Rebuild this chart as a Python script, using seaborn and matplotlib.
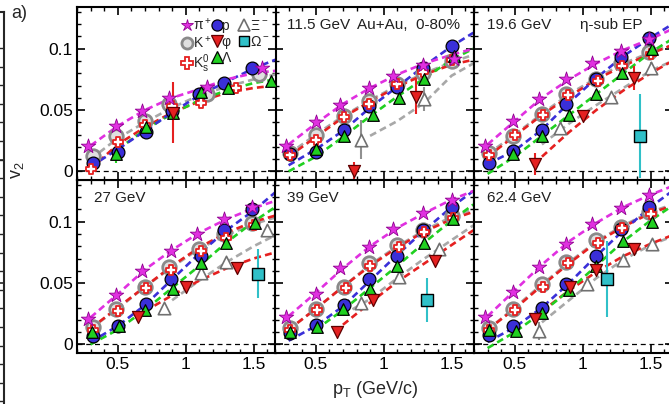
import numpy as np
import matplotlib
matplotlib.use("Agg")
import matplotlib.pyplot as plt
import seaborn as sns
from matplotlib.ticker import MultipleLocator, FuncFormatter, FixedLocator
from matplotlib.lines import Line2D

nan = np.nan

ENERGIES = ["7.7 GeV", "11.5 GeV", "19.6 GeV", "27 GeV", "39 GeV", "62.4 GeV"]

# ---------------- data points (one inner list per panel) ----------------
PION_PT = [[0.28, 0.49, 0.68, 0.88, 1.16, 1.56],
           [0.28, 0.50, 0.68, 0.89, 1.07, 1.29, 1.52],
           [0.28, 0.49, 0.68, 0.88, 1.07, 1.28, 1.49],
           [0.28, 0.49, 0.68, 0.89, 1.08, 1.28, 1.49],
           [0.28, 0.50, 0.68, 0.89, 1.07, 1.29, 1.50],
           [0.28, 0.49, 0.68, 0.88, 1.07, 1.28, 1.49]]
PION_V2 = [[0.021, 0.037, 0.049, 0.060, 0.069, 0.084],
           [0.021, 0.040, 0.054, 0.068, 0.078, 0.087, 0.092],
           [0.021, 0.041, 0.059, 0.075, 0.088, 0.098, 0.108],
           [0.021, 0.040, 0.060, 0.076, 0.090, 0.102, 0.112],
           [0.022, 0.041, 0.062, 0.079, 0.094, 0.107, 0.118],
           [0.022, 0.043, 0.063, 0.082, 0.098, 0.111, 0.122]]

PROTON_PT = [[0.32, 0.50, 0.71, 0.90, 1.10, 1.28, 1.49],
             [0.31, 0.50, 0.71, 0.89, 1.10, 1.29, 1.50],
             [0.31, 0.49, 0.70, 0.88, 1.10, 1.28, 1.49],
             [0.32, 0.50, 0.71, 0.89, 1.11, 1.28, 1.49],
             [0.31, 0.50, 0.71, 0.89, 1.10, 1.29, 1.50],
             [0.31, 0.49, 0.70, 0.88, 1.10, 1.28, 1.49]]
PROTON_V2 = [[0.007, 0.016, 0.032, 0.049, 0.063, 0.072, 0.084],
             [0.014, 0.016, 0.034, 0.053, 0.069, 0.084, 0.102],
             [0.007, 0.017, 0.034, 0.055, 0.075, 0.093, 0.109],
             [0.007, 0.015, 0.033, 0.053, 0.072, 0.093, 0.110],
             [0.009, 0.016, 0.032, 0.053, 0.072, 0.093, 0.112],
             [0.008, 0.015, 0.030, 0.049, 0.072, 0.094, 0.112]]

KPLUS_PT = [[0.32, 0.49, 0.70, 0.88, 1.16, 1.54],
            [0.31, 0.50, 0.71, 0.89, 1.10, 1.29, 1.50],
            [0.31, 0.49, 0.70, 0.88, 1.10, 1.28, 1.49],
            [0.32, 0.49, 0.70, 0.88, 1.10, 1.28, 1.49],
            [0.31, 0.50, 0.71, 0.89, 1.10, 1.29, 1.50],
            [0.31, 0.49, 0.70, 0.88, 1.10, 1.28, 1.49]]
KPLUS_V2 = [[0.0125, 0.029, 0.041, 0.055, 0.063, 0.079],
            [0.0146, 0.030, 0.045, 0.057, 0.071, 0.080, 0.090],
            [0.0146, 0.029, 0.047, 0.063, 0.075, 0.088, 0.097],
            [0.014, 0.029, 0.047, 0.063, 0.078, 0.090, 0.099],
            [0.013, 0.029, 0.047, 0.066, 0.081, 0.093, 0.105],
            [0.013, 0.029, 0.049, 0.067, 0.085, 0.096, 0.108]]

K0S_PT = [[0.30, 0.50, 0.70, 0.90, 1.11, 1.37],
          [0.31, 0.50, 0.71, 0.89, 1.10, 1.29, 1.50],
          [0.31, 0.50, 0.71, 0.89, 1.11, 1.29, 1.50],
          [0.32, 0.50, 0.71, 0.89, 1.11, 1.30, 1.50],
          [0.31, 0.51, 0.72, 0.90, 1.11, 1.30, 1.51],
          [0.31, 0.50, 0.71, 0.89, 1.11, 1.29, 1.50]]
K0S_V2 = [[0.002, 0.024, 0.038, 0.053, 0.056, 0.068],
          [0.013, 0.026, 0.044, 0.055, 0.071, 0.081, 0.091],
          [0.013, 0.030, 0.046, 0.062, 0.074, 0.086, 0.096],
          [0.012, 0.027, 0.046, 0.061, 0.076, 0.087, 0.097],
          [0.012, 0.028, 0.046, 0.064, 0.079, 0.092, 0.103],
          [0.012, 0.028, 0.047, 0.066, 0.083, 0.095, 0.106]]

PHI_PT = [[0.91], [0.78, 1.24], [0.65, 1.00, 1.38], [0.65, 1.00, 1.38],
          [0.66, 0.92, 1.38], [0.65, 0.91, 1.10, 1.38]]
PHI_V2 = [[0.048], [0.000, 0.061], [0.006, 0.045, 0.076], [0.022, 0.047, 0.062],
          [0.010, 0.036, 0.068], [0.021, 0.047, 0.061, 0.078]]
PHI_ERR = [[0.025], [0.008, 0.014], [0.009, 0.003, 0.010], [0.004, 0.002, 0.004],
           [0.003, 0.002, 0.004], [0.003, 0.002, 0.003, 0.003]]

XI_PT = [[], [0.83, 1.30], [0.83, 1.21, 1.50], [0.84, 1.11, 1.30, 1.60],
         [0.83, 1.11, 1.41], [0.68, 1.03, 1.30, 1.51]]
XI_V2 = [[], [0.026, 0.059], [0.035, 0.061, 0.084], [0.030, 0.058, 0.067, 0.093],
         [0.034, 0.055, 0.078], [0.011, 0.049, 0.069, 0.082]]
XI_ERR = [[], [0.016, 0.010], [0.004, 0.003, 0.005], [0.003, 0.003, 0.003, 0.004],
          [0.003, 0.003, 0.004], [0.007, 0.003, 0.003, 0.004]]

OMEGA_PT = [[], [], [1.42], [1.53], [1.32], [1.18]]
OMEGA_V2 = [[], [], [0.029], [0.0575], [0.036], [0.053]]
OMEGA_ERR = [[], [], [0.034], [0.020], [0.018], [0.031]]

LAMBDA_PT = [[0.49, 0.71, 0.91, 1.11, 1.31, 1.63],
             [0.50, 0.71, 0.92, 1.11, 1.30, 1.52],
             [0.49, 0.70, 0.90, 1.10, 1.29, 1.51],
             [0.31, 0.51, 0.70, 0.91, 1.11, 1.30, 1.51],
             [0.31, 0.51, 0.70, 0.90, 1.10, 1.30, 1.51],
             [0.31, 0.51, 0.70, 0.90, 1.10, 1.30, 1.51]]
LAMBDA_V2 = [[0.014, 0.036, 0.048, 0.065, 0.068, 0.074],
             [0.018, 0.029, 0.046, 0.060, 0.075, 0.094],
             [0.014, 0.029, 0.046, 0.063, 0.080, 0.100],
             [0.010, 0.015, 0.028, 0.045, 0.066, 0.083, 0.099],
             [0.010, 0.014, 0.029, 0.045, 0.064, 0.083, 0.102],
             [0.012, 0.011, 0.026, 0.044, 0.064, 0.084, 0.100]]
LAMBDA_ERR = [[0.007, 0.002, 0.002, 0.002, 0.003, 0.003],
              [0.003, 0.002, 0.002, 0.002, 0.002, 0.003],
              [0.003, 0.002, 0.002, 0.002, 0.002, 0.003],
              [0.006, 0.002, 0.002, 0.002, 0.002, 0.002, 0.003],
              [0.004, 0.002, 0.002, 0.002, 0.002, 0.002, 0.003],
              [0.004, 0.002, 0.002, 0.002, 0.002, 0.002, 0.003]]

# ---------------- dashed fit curves, read on a pT grid ----------------
FIT_PT = [0.3, 0.5, 0.7, 0.9, 1.1, 1.3, 1.5, 1.66]
PION_FIT = [[0.021, 0.037, 0.050, 0.060, 0.067, 0.075, 0.080, 0.082],
            [0.022, 0.039, 0.055, 0.068, 0.079, 0.088, 0.095, 0.100],
            [0.022, 0.041, 0.060, 0.075, 0.088, 0.099, 0.108, 0.116],
            [0.022, 0.041, 0.061, 0.077, 0.091, 0.102, 0.111, 0.117],
            [0.023, 0.042, 0.062, 0.080, 0.095, 0.107, 0.118, 0.125],
            [0.023, 0.044, 0.065, 0.084, 0.099, 0.112, 0.122, 0.129]]
PROTON_FIT = [[0.004, 0.018, 0.033, 0.048, 0.062, 0.073, 0.084, 0.091],
              [0.005, 0.018, 0.033, 0.052, 0.069, 0.086, 0.102, 0.113],
              [0.006, 0.017, 0.034, 0.056, 0.076, 0.094, 0.109, 0.120],
              [0.002, 0.015, 0.032, 0.053, 0.074, 0.093, 0.109, 0.124],
              [0.003, 0.015, 0.031, 0.052, 0.073, 0.093, 0.112, 0.125],
              [0.002, 0.014, 0.030, 0.050, 0.072, 0.093, 0.112, 0.125]]
KPLUS_FIT = [[0.010, 0.027, 0.040, 0.052, 0.062, 0.069, 0.075, 0.079],
             [0.014, 0.030, 0.045, 0.058, 0.070, 0.080, 0.089, 0.095],
             [0.014, 0.030, 0.047, 0.063, 0.076, 0.088, 0.097, 0.103],
             [0.013, 0.029, 0.047, 0.063, 0.078, 0.089, 0.098, 0.1035],
             [0.012, 0.029, 0.047, 0.065, 0.080, 0.093, 0.104, 0.110],
             [0.012, 0.030, 0.049, 0.067, 0.084, 0.097, 0.108, 0.114]]
K0S_FIT = [[0.002, 0.022, 0.036, 0.048, 0.057, 0.064, 0.068, 0.070],
           [0.012, 0.028, 0.044, 0.057, 0.069, 0.079, 0.087, 0.091],
           [0.012, 0.029, 0.046, 0.061, 0.075, 0.086, 0.096, 0.103],
           [0.013, 0.030, 0.047, 0.064, 0.079, 0.091, 0.100, 0.105],
           [0.012, 0.029, 0.047, 0.064, 0.079, 0.092, 0.102, 0.108],
           [0.012, 0.029, 0.048, 0.066, 0.083, 0.096, 0.107, 0.113]]
LAMBDA_FIT = [[nan, 0.018, 0.034, 0.047, 0.058, 0.066, 0.072, 0.075],
              [0.000, 0.012, 0.028, 0.045, 0.061, 0.076, 0.091, 0.100],
              [-0.002, 0.012, 0.029, 0.046, 0.063, 0.080, 0.097, 0.108],
              [0.000, 0.012, 0.028, 0.046, 0.064, 0.083, 0.100, 0.112],
              [nan, 0.012, 0.028, 0.046, 0.064, 0.083, 0.101, 0.114],
              [-0.003, 0.010, 0.026, 0.044, 0.064, 0.084, 0.101, 0.113]]
XI_FIT = [[nan, nan, nan, nan, nan, nan, nan, nan],
          [nan, nan, nan, 0.029, 0.041, 0.056, 0.078, 0.088],
          [nan, nan, 0.022, 0.039, 0.054, 0.068, 0.082, 0.090],
          [nan, nan, nan, 0.036, 0.052, 0.067, 0.080, 0.089],
          [nan, nan, 0.024, 0.037, 0.054, 0.070, 0.085, 0.097],
          [nan, nan, 0.018, 0.036, 0.054, 0.069, 0.081, 0.088]]
PHI_FIT = [[nan, nan, nan, nan, nan, nan, nan, nan],
           [nan, nan, nan, nan, nan, nan, nan, nan],
           [nan, nan, 0.012, 0.032, 0.050, 0.066, 0.080, 0.090],
           [nan, nan, 0.027, 0.040, 0.052, 0.062, 0.070, 0.075],
           [nan, nan, 0.016, 0.034, 0.051, 0.066, 0.081, 0.093],
           [nan, nan, 0.027, 0.044, 0.059, 0.072, 0.082, 0.089]]

# ---------------- styles ----------------
MAGENTA = "#e030e0"
BLUE = "#3a2fd8"
GRAY = "#a8a8a8"
RED = "#e52020"
GREEN = "#20d020"
CYAN = "#30c0c8"

sns.set_theme(style="ticks")
plt.rcParams["font.family"] = ["Liberation Sans", "DejaVu Sans"]
plt.rcParams["mathtext.default"] = "regular"

W, H = 669, 404
fig = plt.figure(figsize=(W / 100, H / 100), dpi=100)

col_left = [77, 275, 474]
col_w = 199
row_top = [7, 180]
row_h = 173

label_pos = [(94, 27), (287, 25), (487, 25), (94, 198), (287, 198), (487, 198)]

fit_specs = [
    (KPLUS_FIT, GRAY), (XI_FIT, GRAY), (K0S_FIT, RED), (PHI_FIT, RED),
    (LAMBDA_FIT, GREEN), (PROTON_FIT, BLUE), (PION_FIT, MAGENTA),
]


def yfmt(v, pos):
    v = round(v, 4)
    if abs(v) < 1e-9:
        return "0"
    return f"{v:g}"


axes = []
for i in range(6):
    r, c = divmod(i, 3)
    x0 = col_left[c] / W
    y0 = (H - row_top[r] - row_h) / H
    ax = fig.add_axes([x0, y0, col_w / W, row_h / H])
    axes.append(ax)
    ax.set_xlim(0.2, 1.665)
    ax.set_ylim(-0.007, 0.134)
    ax.axhline(0, color="black", lw=0.9, ls=(0, (4, 3)), zorder=0)

    # fit curves
    for fit, col in fit_specs:
        ys = np.array(fit[i], dtype=float)
        xs = np.array(FIT_PT, dtype=float)
        m = ~np.isnan(ys)
        if m.sum() < 2:
            continue
        sns.lineplot(x=xs[m], y=ys[m], ax=ax, color=col, lw=1.9,
                     linestyle=(0, (2.6, 1.6)), sort=False, estimator=None,
                     zorder=1)

    # error bars
    for xs, ys, es, col in [(PHI_PT[i], PHI_V2[i], PHI_ERR[i], RED),
                            (XI_PT[i], XI_V2[i], XI_ERR[i], "#909090"),
                            (OMEGA_PT[i], OMEGA_V2[i], OMEGA_ERR[i], CYAN),
                            (LAMBDA_PT[i], LAMBDA_V2[i], LAMBDA_ERR[i], GREEN)]:
        if len(xs):
            ax.errorbar(xs, ys, yerr=es, fmt="none", ecolor=col, elinewidth=1.5,
                        capsize=0, zorder=2)

    # markers
    def sc(xs, ys, marker, s, fc, ec, lw, z):
        if len(xs):
            sns.scatterplot(x=xs, y=ys, ax=ax, marker=marker, s=s, color=fc,
                            edgecolor=ec, linewidth=lw, zorder=z, legend=False)

    sc(XI_PT[i], XI_V2[i], "^", 80, "white", "#707070", 1.2, 3)
    sc(KPLUS_PT[i], KPLUS_V2[i], "o", 95, "#e0e0e0", "#8a8a8a", 2.0, 3)
    sc(PROTON_PT[i], PROTON_V2[i], "o", 85, BLUE, "black", 0.9, 4)
    sc(K0S_PT[i], K0S_V2[i], "P", 60, "white", RED, 1.3, 5)
    sc(LAMBDA_PT[i], LAMBDA_V2[i], "^", 70, GREEN, "black", 0.9, 6)
    sc(PHI_PT[i], PHI_V2[i], "v", 75, RED, "#600000", 0.9, 6)
    sc(PION_PT[i], PION_V2[i], "*", 120, MAGENTA, "#900090", 0.6, 7)
    sc(OMEGA_PT[i], OMEGA_V2[i], "s", 65, CYAN, "black", 1.0, 7)

    ax.set_xlabel("")
    ax.set_ylabel("")
    ax.xaxis.set_major_locator(MultipleLocator(0.5))
    ax.xaxis.set_minor_locator(MultipleLocator(0.1))
    ax.yaxis.set_major_locator(MultipleLocator(0.05))
    ax.yaxis.set_minor_locator(MultipleLocator(0.01))
    ax.yaxis.set_major_formatter(FuncFormatter(yfmt))
    ax.xaxis.set_major_formatter(FuncFormatter(lambda v, p: f"{round(v, 3):g}"))
    ax.tick_params(which="both", direction="in", top=True, right=True,
                   colors="black", labelsize=12.5)
    ax.tick_params(which="major", length=6, width=1.2, pad=3)
    ax.tick_params(which="minor", length=3, width=1.0)
    for sp in ax.spines.values():
        sp.set_linewidth(1.5)
        sp.set_color("black")
    if c != 0:
        ax.tick_params(labelleft=False)
    if r == 0:
        ax.tick_params(labelbottom=False)

    lx, ly = label_pos[i]
    fig.text(lx / W, 1 - ly / H, ENERGIES[i], fontsize=11, va="center",
             ha="left", color="#202020")

fig.text(357 / W, 1 - 25 / H, "Au+Au,  0-80%", fontsize=11, va="center",
         ha="left", color="#202020")
fig.text(580 / W, 1 - 25 / H, "η-sub EP", fontsize=11, va="center",
         ha="left", color="#202020")

# legend in first panel
axes[0].set_zorder(10)
handles = [
    Line2D([], [], ls="none", marker="*", ms=9, mfc=MAGENTA, mec="#900090", mew=0.6),
    Line2D([], [], ls="none", marker="o", ms=8, mfc="#e0e0e0", mec="#8a8a8a", mew=2.0),
    Line2D([], [], ls="none", marker="P", ms=8, mfc="white", mec=RED, mew=1.3),
    Line2D([], [], ls="none", marker="o", ms=8, mfc=BLUE, mec="black", mew=0.9),
    Line2D([], [], ls="none", marker="v", ms=8, mfc=RED, mec="#600000", mew=0.9),
    Line2D([], [], ls="none", marker="^", ms=8, mfc=GREEN, mec="black", mew=0.9),
    Line2D([], [], ls="none", marker="^", ms=8, mfc="white", mec="#707070", mew=1.2),
    Line2D([], [], ls="none", marker="s", ms=7, mfc=CYAN, mec="black", mew=1.0),
]
labels = ["π$^+$", "K$^+$", "K$^0_s$", "p  ", "φ  ", "Λ  ", "Ξ$^-$", "Ω$^-$"]
axes[0].legend(handles, labels, loc="upper left", bbox_to_anchor=(0.535, 0.945),
               ncol=3, frameon=False, fontsize=10, handlelength=0.55,
               handletextpad=0.12, columnspacing=0.1, labelspacing=0.15,
               borderpad=0.0, borderaxespad=0.0)

# sliver of the neighbouring figure at the left edge
sl = fig.add_axes([(4 - 100) / W, 0, 100 / W, (H - 12) / H])
sl.set_xlim(0, 1)
sl.set_ylim(H, 12)
for k in ["left", "bottom"]:
    sl.spines[k].set_visible(False)
sl.spines["right"].set_linewidth(1.5)
sl.spines["top"].set_linewidth(1.5)
sl.set_xticks([])
sl.yaxis.tick_right()
sl.yaxis.set_major_locator(FixedLocator([160, 283]))
sl.yaxis.set_minor_locator(FixedLocator(list(np.arange(48, 404, 18.6))))
sl.tick_params(axis="y", which="both", direction="in", labelright=False)
sl.tick_params(axis="y", which="major", length=8, width=1.2)
sl.tick_params(axis="y", which="minor", length=4, width=1.0)
sl.patch.set_alpha(0)

fig.text(11 / W, 1 - 13 / H, "a)", fontsize=13, va="center", ha="left")
fig.text(17 / W, 1 - 170 / H, "v$_2$", fontsize=13, va="center", ha="center",
         rotation=90)
fig.text(375 / W, 1 - 390 / H, "p$_T$ (GeV/c)", fontsize=13, va="center",
         ha="center")

fig.savefig("out.png", dpi=100)
